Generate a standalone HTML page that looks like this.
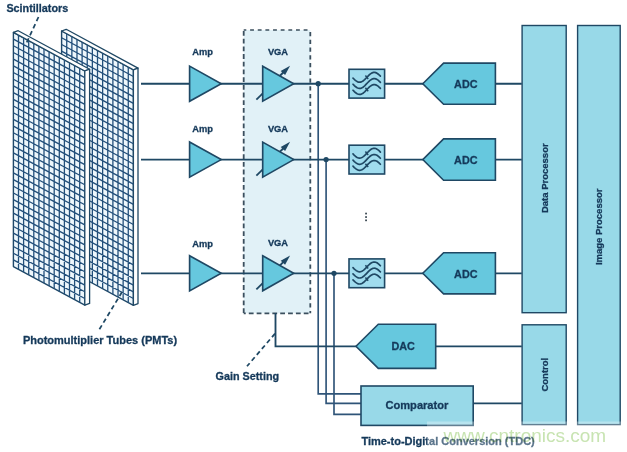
<!DOCTYPE html>
<html><head><meta charset="utf-8"><style>
html,body{margin:0;padding:0;background:#fff;}
body{width:627px;height:452px;overflow:hidden;}
svg{display:block;will-change:transform;}
text{font-family:"Liberation Sans",sans-serif;font-weight:bold;fill:#15395a;stroke:#15395a;stroke-width:0.3px;}
</style></head><body>
<svg width="627" height="452" viewBox="0 0 627 452">
<rect x="0" y="0" width="627" height="452" fill="#ffffff"/>
<rect x="243.7" y="30.0" width="66.6" height="283.3" fill="#e1f1f7"/>
<path d="M243.7 30H310.3" fill="none" stroke="#3b4f5e" stroke-width="1.8" stroke-dasharray="3.85 3.8" stroke-dashoffset="1.25" style="stroke-width:1.55px"/>
<path d="M310.3 30V313.3" fill="none" stroke="#3b4f5e" stroke-width="1.8" stroke-dasharray="4.2 3.55" stroke-dashoffset="5.8"/>
<path d="M243.7 313.3H310.3" fill="none" stroke="#3b4f5e" stroke-width="1.8" stroke-dasharray="4.8 3.05" stroke-dashoffset="2.75"/>
<path d="M243.7 30V313.3" fill="none" stroke="#3b4f5e" stroke-width="1.8" stroke-dasharray="4.8 2.9" stroke-dashoffset="6.7"/>
<polygon points="61.60,31.00 133.40,69.77 133.40,305.27 61.60,266.50" fill="#eef7fc" stroke="#1f4868" stroke-width="1.40" stroke-linejoin="round"/>
<polygon points="61.60,31.00 66.20,29.30 138.00,68.07 133.40,69.77" fill="#ffffff" stroke="#1f4864" stroke-width="1.30" stroke-linejoin="round"/>
<polygon points="133.40,69.77 138.00,68.07 138.00,303.57 133.40,305.27" fill="#ffffff" stroke="#1f4864" stroke-width="1.30" stroke-linejoin="round"/>
<path d="M66.73 33.77v235.50M71.86 36.54v235.50M76.99 39.31v235.50M82.11 42.08v235.50M87.24 44.85v235.50M92.37 47.62v235.50M97.50 50.39v235.50M102.63 53.16v235.50M107.76 55.92v235.50M112.89 58.69v235.50M118.01 61.46v235.50M123.14 64.23v235.50M128.27 67.00v235.50M61.60 37.73L133.40 76.50M61.60 44.46L133.40 83.23M61.60 51.19L133.40 89.96M61.60 57.91L133.40 96.69M61.60 64.64L133.40 103.41M61.60 71.37L133.40 110.14M61.60 78.10L133.40 116.87M61.60 84.83L133.40 123.60M61.60 91.56L133.40 130.33M61.60 98.29L133.40 137.06M61.60 105.01L133.40 143.79M61.60 111.74L133.40 150.51M61.60 118.47L133.40 157.24M61.60 125.20L133.40 163.97M61.60 131.93L133.40 170.70M61.60 138.66L133.40 177.43M61.60 145.39L133.40 184.16M61.60 152.11L133.40 190.89M61.60 158.84L133.40 197.61M61.60 165.57L133.40 204.34M61.60 172.30L133.40 211.07M61.60 179.03L133.40 217.80M61.60 185.76L133.40 224.53M61.60 192.49L133.40 231.26M61.60 199.21L133.40 237.99M61.60 205.94L133.40 244.71M61.60 212.67L133.40 251.44M61.60 219.40L133.40 258.17M61.60 226.13L133.40 264.90M61.60 232.86L133.40 271.63M61.60 239.59L133.40 278.36M61.60 246.31L133.40 285.09M61.60 253.04L133.40 291.81M61.60 259.77L133.40 298.54" stroke="#224f7a" stroke-width="1.30" fill="none"/>
<polygon points="13.40,32.40 84.80,70.96 84.80,305.16 13.40,266.60" fill="#eef7fc" stroke="#1f4868" stroke-width="1.40" stroke-linejoin="round"/>
<polygon points="13.40,32.40 18.20,30.70 89.60,69.26 84.80,70.96" fill="#ffffff" stroke="#1f4864" stroke-width="1.30" stroke-linejoin="round"/>
<polygon points="84.80,70.96 89.60,69.26 89.60,303.46 84.80,305.16" fill="#ffffff" stroke="#1f4864" stroke-width="1.30" stroke-linejoin="round"/>
<path d="M18.50 35.15v234.20M23.60 37.91v234.20M28.70 40.66v234.20M33.80 43.42v234.20M38.90 46.17v234.20M44.00 48.92v234.20M49.10 51.68v234.20M54.20 54.43v234.20M59.30 57.19v234.20M64.40 59.94v234.20M69.50 62.69v234.20M74.60 65.45v234.20M79.70 68.20v234.20M13.40 39.09L84.80 77.65M13.40 45.78L84.80 84.34M13.40 52.47L84.80 91.03M13.40 59.17L84.80 97.72M13.40 65.86L84.80 104.41M13.40 72.55L84.80 111.10M13.40 79.24L84.80 117.80M13.40 85.93L84.80 124.49M13.40 92.62L84.80 131.18M13.40 99.31L84.80 137.87M13.40 106.01L84.80 144.56M13.40 112.70L84.80 151.25M13.40 119.39L84.80 157.94M13.40 126.08L84.80 164.64M13.40 132.77L84.80 171.33M13.40 139.46L84.80 178.02M13.40 146.15L84.80 184.71M13.40 152.85L84.80 191.40M13.40 159.54L84.80 198.09M13.40 166.23L84.80 204.78M13.40 172.92L84.80 211.48M13.40 179.61L84.80 218.17M13.40 186.30L84.80 224.86M13.40 192.99L84.80 231.55M13.40 199.69L84.80 238.24M13.40 206.38L84.80 244.93M13.40 213.07L84.80 251.62M13.40 219.76L84.80 258.32M13.40 226.45L84.80 265.01M13.40 233.14L84.80 271.70M13.40 239.83L84.80 278.39M13.40 246.53L84.80 285.08M13.40 253.22L84.80 291.77M13.40 259.91L84.80 298.46" stroke="#224f7a" stroke-width="1.30" fill="none"/>
<path d="M318.2 83.7V393.8H361M326.1 159.6V403.4H361M334.0 273.3V414.3H361" fill="none" stroke="#2f5478" stroke-width="1.65"/>
<path d="M141 83.7H521.8M141 159.6H521.8M141 273.3H521.8M275.5 313V346.3H521.8M473 403.4H521.8" fill="none" stroke="#1f4864" stroke-width="1.85"/>
<polygon points="189.6,66.1 221.2,83.7 189.6,101.3" fill="#66c8de" stroke="#1f4864" stroke-width="1.65" stroke-linejoin="miter"/>
<line x1="256.40" y1="99.70" x2="270.70" y2="85.70" stroke="#1f4864" stroke-width="1.8"/>
<polygon points="262.7,66.2 293.7,83.7 262.7,101.2" fill="#66c8de" stroke="#1f4864" stroke-width="1.65" stroke-linejoin="miter"/>
<line x1="279.70" y1="76.00" x2="283.50" y2="72.30" stroke="#1f4864" stroke-width="1.9"/>
<polygon points="290.10,65.80 280.70,71.10 285.10,75.10" fill="#1f4864"/>
<rect x="349.0" y="69.3" width="35.6" height="28.8" fill="#a0dcee" stroke="#1f4864" stroke-width="1.6"/>
<path d="M353.00 78.04L353.69 78.74L354.37 79.41L355.06 80.04L355.74 80.60L356.43 81.10L357.11 81.51L357.80 81.84L358.48 82.06L359.17 82.18L359.85 82.19L360.54 82.10L361.22 81.91L361.90 81.61L362.59 81.22L363.27 80.75L363.96 80.20L364.64 79.59L365.33 78.92L366.01 78.23L366.70 77.51L367.38 76.79L368.07 76.08L368.75 75.40L369.44 74.75L370.12 74.17L370.81 73.65L371.50 73.21L372.18 72.86L372.87 72.60L373.55 72.45L374.24 72.40L374.92 72.46L375.61 72.62L376.29 72.89L376.98 73.25L377.66 73.70L378.35 74.22L379.03 74.82L379.71 75.46L380.40 76.15" fill="none" stroke="#1f4864" stroke-width="1.7" stroke-linecap="round"/>
<path d="M353.00 84.24L353.69 84.94L354.37 85.61L355.06 86.24L355.74 86.80L356.43 87.30L357.11 87.71L357.80 88.04L358.48 88.26L359.17 88.38L359.85 88.39L360.54 88.30L361.22 88.11L361.90 87.81L362.59 87.42L363.27 86.95L363.96 86.40L364.64 85.79L365.33 85.12L366.01 84.43L366.70 83.71L367.38 82.99L368.07 82.28L368.75 81.60L369.44 80.95L370.12 80.37L370.81 79.85L371.50 79.41L372.18 79.06L372.87 78.80L373.55 78.65L374.24 78.60L374.92 78.66L375.61 78.82L376.29 79.09L376.98 79.45L377.66 79.90L378.35 80.42L379.03 81.02L379.71 81.66L380.40 82.35" fill="none" stroke="#1f4864" stroke-width="1.7" stroke-linecap="round"/>
<path d="M353.00 90.24L353.69 90.94L354.37 91.61L355.06 92.24L355.74 92.80L356.43 93.30L357.11 93.71L357.80 94.04L358.48 94.26L359.17 94.38L359.85 94.39L360.54 94.30L361.22 94.11L361.90 93.81L362.59 93.42L363.27 92.95L363.96 92.40L364.64 91.79L365.33 91.12L366.01 90.43L366.70 89.71L367.38 88.99L368.07 88.28L368.75 87.60L369.44 86.95L370.12 86.37L370.81 85.85L371.50 85.41L372.18 85.06L372.87 84.80L373.55 84.65L374.24 84.60L374.92 84.66L375.61 84.82L376.29 85.09L376.98 85.45L377.66 85.90L378.35 86.42L379.03 87.02L379.71 87.66L380.40 88.35" fill="none" stroke="#1f4864" stroke-width="1.7" stroke-linecap="round"/>
<path d="M365.40 75.60L368.20 79.00" stroke="#1f4864" stroke-width="1.5"/>
<path d="M365.40 87.80L368.20 91.20" stroke="#1f4864" stroke-width="1.5"/>
<polygon points="422.8,83.7 443.6,63.1 495.4,63.1 495.4,104.3 443.6,104.3" fill="#66c8de" stroke="#1f4864" stroke-width="1.6"/>
<circle cx="318.2" cy="83.7" r="2.6" fill="#1f4864"/>
<polygon points="189.6,142.0 221.2,159.6 189.6,177.2" fill="#66c8de" stroke="#1f4864" stroke-width="1.65" stroke-linejoin="miter"/>
<line x1="256.40" y1="175.60" x2="270.70" y2="161.60" stroke="#1f4864" stroke-width="1.8"/>
<polygon points="262.7,142.1 293.7,159.6 262.7,177.1" fill="#66c8de" stroke="#1f4864" stroke-width="1.65" stroke-linejoin="miter"/>
<line x1="279.70" y1="151.90" x2="283.50" y2="148.20" stroke="#1f4864" stroke-width="1.9"/>
<polygon points="290.10,141.70 280.70,147.00 285.10,151.00" fill="#1f4864"/>
<rect x="349.0" y="145.2" width="35.6" height="28.8" fill="#a0dcee" stroke="#1f4864" stroke-width="1.6"/>
<path d="M353.00 153.94L353.69 154.64L354.37 155.31L355.06 155.94L355.74 156.50L356.43 157.00L357.11 157.41L357.80 157.74L358.48 157.96L359.17 158.08L359.85 158.09L360.54 158.00L361.22 157.81L361.90 157.51L362.59 157.12L363.27 156.65L363.96 156.10L364.64 155.49L365.33 154.82L366.01 154.13L366.70 153.41L367.38 152.69L368.07 151.98L368.75 151.30L369.44 150.65L370.12 150.07L370.81 149.55L371.50 149.11L372.18 148.76L372.87 148.50L373.55 148.35L374.24 148.30L374.92 148.36L375.61 148.52L376.29 148.79L376.98 149.15L377.66 149.60L378.35 150.12L379.03 150.72L379.71 151.36L380.40 152.05" fill="none" stroke="#1f4864" stroke-width="1.7" stroke-linecap="round"/>
<path d="M353.00 160.14L353.69 160.84L354.37 161.51L355.06 162.14L355.74 162.70L356.43 163.20L357.11 163.61L357.80 163.94L358.48 164.16L359.17 164.28L359.85 164.29L360.54 164.20L361.22 164.01L361.90 163.71L362.59 163.32L363.27 162.85L363.96 162.30L364.64 161.69L365.33 161.02L366.01 160.33L366.70 159.61L367.38 158.89L368.07 158.18L368.75 157.50L369.44 156.85L370.12 156.27L370.81 155.75L371.50 155.31L372.18 154.96L372.87 154.70L373.55 154.55L374.24 154.50L374.92 154.56L375.61 154.72L376.29 154.99L376.98 155.35L377.66 155.80L378.35 156.32L379.03 156.92L379.71 157.56L380.40 158.25" fill="none" stroke="#1f4864" stroke-width="1.7" stroke-linecap="round"/>
<path d="M353.00 166.14L353.69 166.84L354.37 167.51L355.06 168.14L355.74 168.70L356.43 169.20L357.11 169.61L357.80 169.94L358.48 170.16L359.17 170.28L359.85 170.29L360.54 170.20L361.22 170.01L361.90 169.71L362.59 169.32L363.27 168.85L363.96 168.30L364.64 167.69L365.33 167.02L366.01 166.33L366.70 165.61L367.38 164.89L368.07 164.18L368.75 163.50L369.44 162.85L370.12 162.27L370.81 161.75L371.50 161.31L372.18 160.96L372.87 160.70L373.55 160.55L374.24 160.50L374.92 160.56L375.61 160.72L376.29 160.99L376.98 161.35L377.66 161.80L378.35 162.32L379.03 162.92L379.71 163.56L380.40 164.25" fill="none" stroke="#1f4864" stroke-width="1.7" stroke-linecap="round"/>
<path d="M365.40 151.50L368.20 154.90" stroke="#1f4864" stroke-width="1.5"/>
<path d="M365.40 163.70L368.20 167.10" stroke="#1f4864" stroke-width="1.5"/>
<polygon points="422.8,159.6 443.6,138.9 495.4,138.9 495.4,180.2 443.6,180.2" fill="#66c8de" stroke="#1f4864" stroke-width="1.6"/>
<circle cx="326.1" cy="159.6" r="2.6" fill="#1f4864"/>
<polygon points="189.6,255.7 221.2,273.3 189.6,290.9" fill="#66c8de" stroke="#1f4864" stroke-width="1.65" stroke-linejoin="miter"/>
<line x1="256.40" y1="289.30" x2="270.70" y2="275.30" stroke="#1f4864" stroke-width="1.8"/>
<polygon points="262.7,255.8 293.7,273.3 262.7,290.8" fill="#66c8de" stroke="#1f4864" stroke-width="1.65" stroke-linejoin="miter"/>
<line x1="279.70" y1="265.60" x2="283.50" y2="261.90" stroke="#1f4864" stroke-width="1.9"/>
<polygon points="290.10,255.40 280.70,260.70 285.10,264.70" fill="#1f4864"/>
<rect x="349.0" y="258.9" width="35.6" height="28.8" fill="#a0dcee" stroke="#1f4864" stroke-width="1.6"/>
<path d="M353.00 267.64L353.69 268.34L354.37 269.01L355.06 269.64L355.74 270.20L356.43 270.70L357.11 271.11L357.80 271.44L358.48 271.66L359.17 271.78L359.85 271.79L360.54 271.70L361.22 271.51L361.90 271.21L362.59 270.82L363.27 270.35L363.96 269.80L364.64 269.19L365.33 268.52L366.01 267.83L366.70 267.11L367.38 266.39L368.07 265.68L368.75 265.00L369.44 264.35L370.12 263.77L370.81 263.25L371.50 262.81L372.18 262.46L372.87 262.20L373.55 262.05L374.24 262.00L374.92 262.06L375.61 262.22L376.29 262.49L376.98 262.85L377.66 263.30L378.35 263.82L379.03 264.42L379.71 265.06L380.40 265.75" fill="none" stroke="#1f4864" stroke-width="1.7" stroke-linecap="round"/>
<path d="M353.00 273.84L353.69 274.54L354.37 275.21L355.06 275.84L355.74 276.40L356.43 276.90L357.11 277.31L357.80 277.64L358.48 277.86L359.17 277.98L359.85 277.99L360.54 277.90L361.22 277.71L361.90 277.41L362.59 277.02L363.27 276.55L363.96 276.00L364.64 275.39L365.33 274.72L366.01 274.03L366.70 273.31L367.38 272.59L368.07 271.88L368.75 271.20L369.44 270.55L370.12 269.97L370.81 269.45L371.50 269.01L372.18 268.66L372.87 268.40L373.55 268.25L374.24 268.20L374.92 268.26L375.61 268.42L376.29 268.69L376.98 269.05L377.66 269.50L378.35 270.02L379.03 270.62L379.71 271.26L380.40 271.95" fill="none" stroke="#1f4864" stroke-width="1.7" stroke-linecap="round"/>
<path d="M353.00 279.84L353.69 280.54L354.37 281.21L355.06 281.84L355.74 282.40L356.43 282.90L357.11 283.31L357.80 283.64L358.48 283.86L359.17 283.98L359.85 283.99L360.54 283.90L361.22 283.71L361.90 283.41L362.59 283.02L363.27 282.55L363.96 282.00L364.64 281.39L365.33 280.72L366.01 280.03L366.70 279.31L367.38 278.59L368.07 277.88L368.75 277.20L369.44 276.55L370.12 275.97L370.81 275.45L371.50 275.01L372.18 274.66L372.87 274.40L373.55 274.25L374.24 274.20L374.92 274.26L375.61 274.42L376.29 274.69L376.98 275.05L377.66 275.50L378.35 276.02L379.03 276.62L379.71 277.26L380.40 277.95" fill="none" stroke="#1f4864" stroke-width="1.7" stroke-linecap="round"/>
<path d="M365.40 265.20L368.20 268.60" stroke="#1f4864" stroke-width="1.5"/>
<path d="M365.40 277.40L368.20 280.80" stroke="#1f4864" stroke-width="1.5"/>
<polygon points="422.8,273.3 443.6,252.7 495.4,252.7 495.4,293.9 443.6,293.9" fill="#66c8de" stroke="#1f4864" stroke-width="1.6"/>
<circle cx="334.0" cy="273.3" r="2.6" fill="#1f4864"/>
<polygon points="356.0,346.3 378.3,324.2 435.7,324.2 435.7,368.4 378.3,368.4" fill="#66c8de" stroke="#1f4864" stroke-width="1.6"/>
<rect x="361" y="386" width="112.2" height="39.4" fill="#98d9e8" stroke="#1f4864" stroke-width="1.6"/>
<rect x="522.1" y="25.5" width="44.1" height="287.2" fill="#98d9e8" stroke="#1f4864" stroke-width="1.4"/>
<rect x="522.1" y="324.8" width="44.1" height="99.8" fill="#98d9e8" stroke="#1f4864" stroke-width="1.4"/>
<rect x="577.6" y="25.5" width="42.6" height="399.1" fill="#98d9e8" stroke="#1f4864" stroke-width="1.4"/>
<path d="M38.5 17L26.5 43M122 292L99 330M275 333.6L247 366.3" fill="none" stroke="#1f4864" stroke-width="1.75" stroke-dasharray="4.6 3.2"/>
<rect x="365.2" y="212.7" width="1.7" height="1.7" fill="#2f3d48"/>
<rect x="365.2" y="216.2" width="1.7" height="1.7" fill="#2f3d48"/>
<rect x="365.2" y="219.5" width="1.7" height="1.7" fill="#2f3d48"/>
<text x="6.4" y="12.1" font-size="10.80" text-anchor="start" >Scintillators</text>
<text x="22.9" y="343.9" font-size="11.00" text-anchor="start" >Photomultiplier Tubes (PMTs)</text>
<text x="215.5" y="379.8" font-size="10.80" text-anchor="start" >Gain Setting</text>
<text x="361.4" y="444.7" font-size="11.00" text-anchor="start" >Time-to-Digital Conversion (TDC)</text>
<text x="202.6" y="55.4" font-size="9.30" text-anchor="middle" >Amp</text>
<text x="278.0" y="55.1" font-size="9.30" text-anchor="middle" >VGA</text>
<text x="465.8" y="88.0" font-size="10.80" text-anchor="middle" >ADC</text>
<text x="202.6" y="132.3" font-size="9.30" text-anchor="middle" >Amp</text>
<text x="278.0" y="132.0" font-size="9.30" text-anchor="middle" >VGA</text>
<text x="465.8" y="163.9" font-size="10.80" text-anchor="middle" >ADC</text>
<text x="202.6" y="246.7" font-size="9.30" text-anchor="middle" >Amp</text>
<text x="278.0" y="246.4" font-size="9.30" text-anchor="middle" >VGA</text>
<text x="465.8" y="277.6" font-size="10.80" text-anchor="middle" >ADC</text>
<text x="403.2" y="349.9" font-size="10.80" text-anchor="middle" >DAC</text>
<text x="416.9" y="408.7" font-size="11.10" text-anchor="middle" >Comparator</text>
<text x="547.8" y="178.2" font-size="9.50" text-anchor="middle" transform="rotate(-90 547.8 178.2)">Data Processor</text>
<text x="601.8" y="226.8" font-size="9.50" text-anchor="middle" transform="rotate(-90 601.8 226.8)">Image Processor</text>
<text x="548.0" y="374.7" font-size="9.50" text-anchor="middle" transform="rotate(-90 548.0 374.7)">Control</text>
<rect x="427" y="421.5" width="200" height="31" fill="#ffffff" fill-opacity="0.3"/>
<text x="443.6" y="441.5" font-size="19" font-weight="normal" style="fill:#c8e4b2;stroke:none;font-weight:normal;mix-blend-mode:multiply">www.cntronics.com</text>
</svg>
</body></html>
